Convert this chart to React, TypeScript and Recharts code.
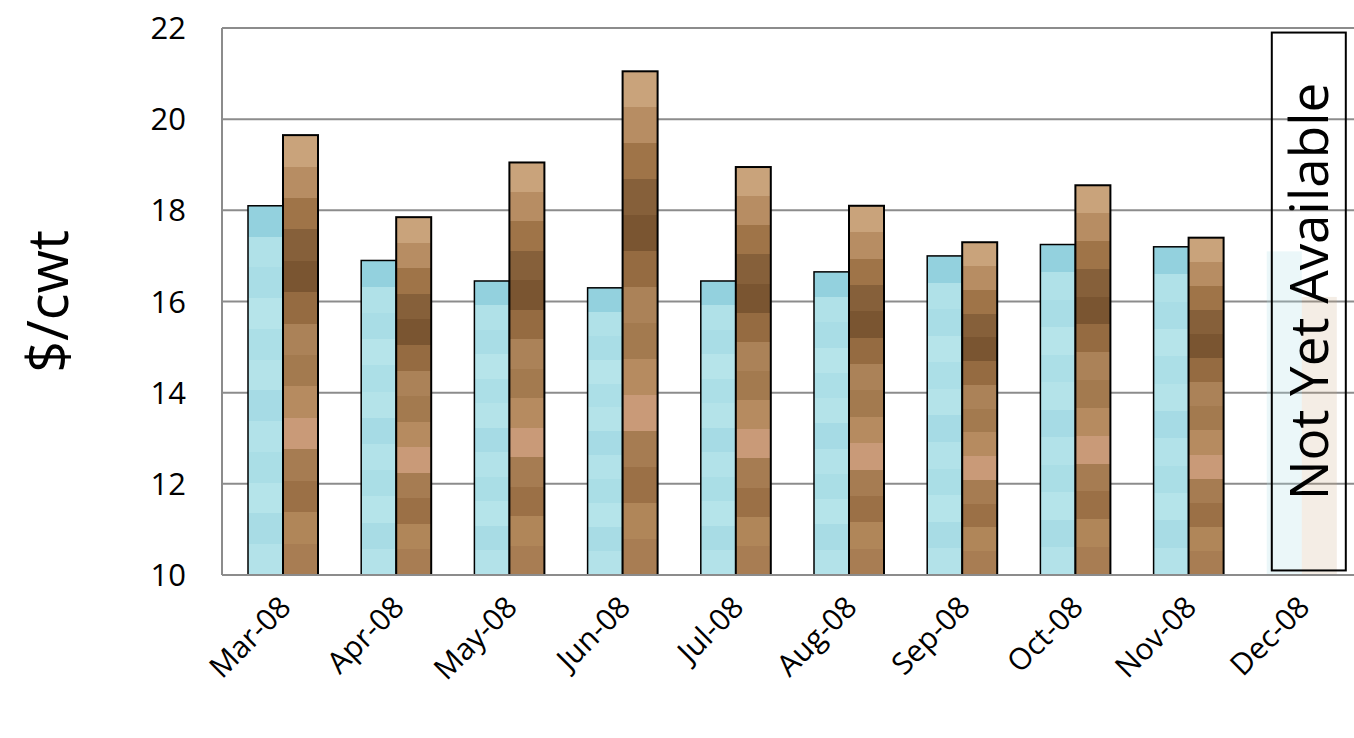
import { BarChart, Bar, XAxis, YAxis, CartesianGrid } from 'recharts';

const months = ['Mar-08', 'Apr-08', 'May-08', 'Jun-08', 'Jul-08', 'Aug-08', 'Sep-08', 'Oct-08', 'Nov-08', 'Dec-08'];
const bluePrices = [18.1, 16.9, 16.45, 16.3, 16.45, 16.65, 17.0, 17.25, 17.2, 17.1];
const brownPrices = [19.65, 17.85, 19.05, 21.05, 18.95, 18.1, 17.3, 18.55, 17.4, 16.1];
const yTicks = [10, 12, 14, 16, 18, 20, 22];
const notAvailable = { month: 'Dec-08', label: 'Not Yet Available', low: 10.1, high: 21.9 };

const data = months.map((m, i) => ({ month: m, blue: bluePrices[i], brown: brownPrices[i] }));
const font = 'Open Sans, Noto Sans, sans-serif';
const BASE = 10;

const blueBands = ['#93d1de', '#b0e1e8', '#a9dde6', '#b6e4ea', '#acdfe7', '#b4e3e9', '#a6dbe5', '#b2e2e9', '#aadee6', '#b5e4ea', '#a8dce5', '#b3e2e9'];
const brownBands = ['#c9a37b', '#b78d63', '#9f7448', '#86603a', '#7a5531', '#956b41', '#ab8258', '#a37a4f', '#b68b60', '#c99a78', '#a67c52', '#9b7046', '#b08659', '#a87d53'];

function Bands({ id, colors }: { id: string; colors: string[] }) {
  const n = colors.length;
  return (
    <linearGradient id={id} x1="0" y1="0" x2="0" y2="1">
      {colors.flatMap((c, i) => [
        <stop key={i + 'a'} offset={i / n} stopColor={c} />,
        <stop key={i + 'b'} offset={(i + 1) / n} stopColor={c} />,
      ])}
    </linearGradient>
  );
}

function BlueShape(props: any) {
  const { x, y, width, height, payload } = props;
  if (payload.month === notAvailable.month) {
    return <rect x={x + 4} y={y} width={width} height={height} fill="#b0e1e8" opacity={0.25} />;
  }
  return <rect x={x + 4} y={y} width={width} height={height} fill="url(#blueTex)" stroke="#000" strokeWidth={1.5} />;
}

function BrownShape(props: any) {
  const { y, width, height, payload } = props;
  const x = props.x + 4;
  if (payload.month !== notAvailable.month) {
    return <rect x={x} y={y} width={width} height={height} fill="url(#brownTex)" stroke="#000" strokeWidth={2} />;
  }
  const bottom = y + height;
  const ppu = height / (payload.brown - BASE);
  const top = bottom - (notAvailable.high - BASE) * ppu;
  const boxBottom = bottom - (notAvailable.low - BASE) * ppu;
  const left = x - width + 5;
  const right = x + width + 9;
  const cx = (left + right) / 2 + 19;
  const cy = (top + boxBottom) / 2 - 10;
  return (
    <g>
      <rect x={x} y={y} width={width} height={height} fill="#c9a37b" opacity={0.2} />
      <rect x={left} y={top} width={right - left} height={boxBottom - top} fill="none" stroke="#000" strokeWidth={2} />
      <text x={cx} y={cy} transform={`rotate(-90 ${cx} ${cy})`} textAnchor="middle" fontSize={53} fontFamily={font} fill="#000">
        {notAvailable.label}
      </text>
    </g>
  );
}

function MonthTick(props: any) {
  const { x, y, payload } = props;
  return (
    <text x={x + 14} y={y + 26} transform={`rotate(-45 ${x + 14} ${y + 26})`} textAnchor="end" fontSize={30} fontFamily={font} fill="#000">
      {payload.value}
    </text>
  );
}

export default function App() {
  return (
    <div style={{ position: 'absolute', left: 0, top: 0, background: '#fff' }}>
      <BarChart width={1354} height={738} data={data} margin={{ top: 28, right: 0, left: 0, bottom: 0 }} barGap={0} barSize={35}>
        <defs>
          <Bands id="blueTex" colors={blueBands} />
          <Bands id="brownTex" colors={brownBands} />
        </defs>
        <CartesianGrid vertical={false} stroke="#8c8c8c" strokeWidth={2} />
        <XAxis dataKey="month" height={163} tick={<MonthTick />} tickLine={false} axisLine={{ stroke: '#8c8c8c', strokeWidth: 2 }} interval={0} />
        <YAxis
          width={222}
          domain={[10, 22]}
          ticks={yTicks}
          tickLine={false}
          tickMargin={30}
          axisLine={{ stroke: '#8c8c8c', strokeWidth: 2 }}
          tick={{ fontSize: 31, fontFamily: font, fill: '#000' }}
          allowDataOverflow
          label={{ value: '$/cwt', angle: -90, position: 'insideLeft', offset: 48, style: { fontSize: 56, fontFamily: font, fill: '#000', textAnchor: 'middle' } }}
        />
        <Bar dataKey="blue" shape={<BlueShape />} isAnimationActive={false} />
        <Bar dataKey="brown" shape={<BrownShape />} isAnimationActive={false} />
      </BarChart>
    </div>
  );
}
